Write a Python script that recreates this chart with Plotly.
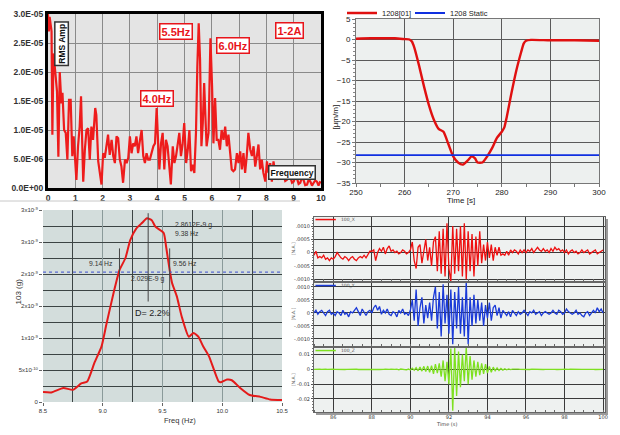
import plotly.graph_objects as go

# ---------------- Panel 1: RMS amplitude spectrum ----------------
p1_freq = [0.0, 0.03, 0.06, 0.09, 0.13, 0.16, 0.2, 0.27, 0.33, 0.38, 0.43, 0.49, 0.53, 0.59, 0.65, 0.71, 0.77, 0.83,
           0.89, 0.94, 0.99, 1.04, 1.10, 1.16, 1.21, 1.29, 1.35, 1.41, 1.47, 1.53, 1.59, 1.65, 1.73, 1.77, 1.84,
           1.90, 1.96, 2.02, 2.08, 2.14, 2.20, 2.26, 2.33, 2.39, 2.45, 2.51, 2.57, 2.63, 2.69, 2.75, 2.82, 2.88,
           2.94, 3.00, 3.06, 3.12, 3.18, 3.24, 3.30, 3.37, 3.43, 3.49, 3.55, 3.61, 3.67, 3.73, 3.79, 3.86, 3.92,
           3.98, 4.04, 4.08, 4.14, 4.20, 4.26, 4.32, 4.38, 4.44, 4.50, 4.57, 4.63, 4.69, 4.75, 4.81, 4.87, 4.93,
           4.99, 5.06, 5.12, 5.18, 5.24, 5.30, 5.36, 5.42, 5.47, 5.52, 5.57, 5.62, 5.67, 5.72, 5.77, 5.81, 5.88,
           5.95, 6.01, 6.06, 6.12, 6.18, 6.24, 6.30, 6.36, 6.43, 6.49, 6.55, 6.61, 6.67, 6.73, 6.79, 6.85, 6.92,
           6.98, 7.04, 7.10, 7.16, 7.22, 7.28, 7.34, 7.41, 7.47, 7.53, 7.59, 7.65, 7.71, 7.77, 7.83, 7.89, 7.96,
           8.02, 8.08, 8.14, 8.20, 8.26, 8.32, 8.38, 8.45, 8.51, 8.57, 8.63, 8.69, 8.75, 8.81, 8.87, 8.94, 9.0,
           9.06, 9.12, 9.18, 9.24, 9.30, 9.36, 9.42, 9.49, 9.55, 9.61, 9.67, 9.73, 9.79, 9.85, 9.91, 9.96, 10.0]
p1_amp_e6 = [30.0, 27.0, 29.5, 28.0, 27.0, 9.2, 23.2, 19.8, 16.6, 5.4, 20.0, 14.6, 16.4, 10.0, 9.5, 4.9, 15.2, 15.2,
             5.5, 8.9, 4.9, 1.4, 7.2, 10.6, 15.8, 1.1, 6.6, 10.0, 10.3, 4.9, 10.6, 8.3, 13.8, 12.6, 4.6,
             2.3, 0.6, 6.0, 5.2, 7.2, 9.2, 5.7, 8.3, 5.5, 4.3, 8.9, 8.6, 4.9, 3.7, 0.9, 4.9, 4.3,
             5.2, 8.9, 6.0, 7.7, 7.2, 8.9, 6.0, 8.3, 10.0, 5.5, 4.3, 6.0, 4.9, 4.9, 6.0, 7.2, 7.7,
             13.8, 7.2, 3.2, 7.7, 9.5, 3.2, 8.3, 7.2, 3.7, 0.6, 7.2, 4.3, 5.5, 7.7, 9.5, 5.5, 7.5,
             11.2, 4.3, 6.6, 10.0, 2.9, 4.0, 2.6, 9.5, 20.9, 28.4, 22.1, 7.2, 11.2, 18.1, 11.8, 7.2, 9.5,
             25.8, 17.5, 7.7, 15.5, 8.3, 8.3, 6.6, 10.0, 8.3, 10.6, 7.2, 9.2, 6.0, 3.2, 2.9, 3.2, 6.0,
             4.3, 6.3, 3.2, 6.0, 2.6, 5.5, 9.5, 6.6, 5.5, 7.2, 3.7, 5.5, 7.5, 3.2, 4.9, 2.6, 1.1,
             4.6, 2.6, 4.3, 1.1, 4.6, 2.6, 2.9, 1.6, 1.7, 2.8, 2.3, 1.2, 1.4, 2.4, 2.0, 0.9, 1.1,
             2.0, 1.7, 0.7, 0.9, 1.8, 1.4, 0.5, 0.6, 1.5, 1.1, 0.4, 0.9, 1.3, 1.1, 0.4, 1.0, 0.9]
p1_amp = [v * 1e-6 for v in p1_amp_e6]
p1_xticks = [0, 1, 2, 3, 4, 5, 6, 7, 8, 9, 10]
p1_yticks = [0, 5e-6, 1e-5, 1.5e-5, 2e-5, 2.5e-5, 3e-5]
p1_yticklabels = ["0.0E+00", "5.0E-06", "1.0E-05", "1.5E-05", "2.0E-05", "2.5E-05", "3.0E-05"]

# ---------------- Panel 2: strain time history ----------------
p2_time = [250, 253, 255, 258, 260, 261, 261.5, 262, 263, 264, 265, 266, 267, 268, 269, 270, 271, 272, 273,
           273.8, 274.5, 275, 276, 277, 278, 279, 280, 280.5, 281, 282, 283, 284, 284.5, 285, 286, 290, 295, 300]
p2_strain = [0.2, 0.3, 0.3, 0.3, 0.1, 0.0, -0.5, -2.0, -6.5, -11.5, -16.0, -19.5, -21.8, -22.5, -25.5, -28.5,
             -30.0, -30.5, -29.5, -28.5, -29.0, -30.0, -30.0, -28.5, -26.5, -24.0, -22.5, -21.5, -19.0, -13.0,
             -7.5, -3.0, -1.0, -0.3, -0.1, -0.2, -0.2, -0.3]
p2_static_time = [250, 300]
p2_static = [-28.2, -28.2]

# ---------------- Panel 3: half-power bandwidth ----------------
p3_freq = [8.5, 8.57, 8.67, 8.75, 8.82, 8.87, 8.93, 8.99, 9.03, 9.09, 9.14, 9.19, 9.23, 9.28, 9.33, 9.37, 9.41,
           9.44, 9.51, 9.53, 9.56, 9.58, 9.62, 9.66, 9.72, 9.76, 9.80, 9.84, 9.89, 9.97, 9.99, 10.04, 10.08,
           10.15, 10.23, 10.32, 10.40, 10.5]
p3_amp_e9 = [0.156, 0.15, 0.22, 0.19, 0.29, 0.32, 0.61, 0.87, 1.21, 1.70, 2.06, 2.25, 2.53, 2.71, 2.80, 2.87, 2.84,
             2.74, 2.64, 2.43, 2.06, 1.86, 1.65, 1.34, 1.02, 1.08, 1.02, 0.87, 0.71, 0.32, 0.31, 0.35, 0.34,
             0.22, 0.11, 0.08, 0.04, 0.03]
p3_amp = [v * 1e-9 for v in p3_amp_e9]
p3_half_power = 2.029e-9
p3_marker_freq = [9.14, 9.38, 9.56]
p3_marker_lo_e9 = [1.02, 1.57, 1.02]
p3_marker_hi_e9 = [2.40, 2.95, 2.40]
p3_xticks = [8.5, 9.0, 9.5, 10.0, 10.5]
p3_xticklabels = ["8.5", "9.0", "9.5", "10.0", "10.5"]
p3_yticks = [0, 0.5e-9, 1.0e-9, 1.5e-9, 2.0e-9, 2.5e-9, 3.0e-9]
p3_yticklabels = ["0", "5x10<sup>-10</sup>", "1x10<sup>-9</sup>", "2x10<sup>-9</sup>", "2x10<sup>-9</sup>",
                  "3x10<sup>-9</sup>", "3x10<sup>-9</sup>"]

# ---------------- Panel 4: three-axis acceleration ----------------
p4_t0 = 85.0
p4_dt = 0.1
p4_x_e4 = [-1, 0.5, -2, -1.5, -2, -1, -2.5, -2, -3, -2,
           -2.5, -1.5, 0, -1, -2, -2.5, -1.5, -2, -3, -2,
           -1.5, -2.5, -3, -2, -1.5, -2, -1, -2, -0.5, 0.5,
           0.5, 1, -3, 0, 1.5, 0.5, 2, -0.5, 1.5, 2.5,
           0.5, 1, 0, 0.5, -0.5, 0, 1, 0.5, -0.5, 0,
           1, 4, -3, -6, 2, 3, -4, 1, 5, -3,
           2, -5, 4, 6, -7, 8, -8, 9, -9, 11,
           -6, -11, 10, -8, 9, -7, 10, -9, 11, -10,
           8, -7, 7, -9, 6, -5, 8, -4, 3, -3,
           4, -2, 3, -3, 2, -1, 2, -1, -0.5, -1,
           0.5, -1, 1, 0, 1, 0.5, -0.5, 1, 0, 1,
           0, 1, 0.5, 1.5, 0, 1, 2, 1, 0.5, 1.5,
           0.5, 1, 0, 1.5, 0.5, 2, 1, 1.5, 0.5, 1,
           0, 1, -0.5, 0.5, 1, 0, 0.5, -0.5, 0, 1,
           0, 0.5, 1, -0.5, 0, 0.5, 1, -0.5, 0, 0.5,
           1]
p4_y_e4 = [0, 1, -0.5, 0.5, 1, 0, -1, 0.5, 1, -0.5,
           0, -1, 0.5, 0, -1, 1, -0.5, 0, -1.5, 0.5,
           0, 1, 2, 0.5, -1, 1.5, 0, -1, 0.5, 1,
           0, 2, 3, 1, 2.5, -0.5, 1, 0, 1.5, -0.5,
           -1, 0.5, 0, -1.5, 1, 0, 1.5, -0.5, 0, -1,
           1, 5, -3, 9, -5, 2, 6, -4, 3, -2,
           4, -3, 6, 10, -6, 8, -9, 11, -4, 7,
           -8, 9, -12, 8, -6, 10, -8, 6, -9, 12,
           -12, 6, -5, 7, -4, 5, -3, 4, -5, 3,
           -2, 4, -3, 2, 3, -1, 2, -2, 1, 0,
           -1, 0.5, -1.5, 1, 0, -1, 0.5, -0.5, 0, 1,
           0, -1, 0.5, 0, 1, -0.5, 0, 0.5, -1, 0,
           0.5, 0, -0.5, 0, 1, 0, -0.5, 1, 0.5, -0.5,
           0, 1.5, 0.5, 0, -0.5, 0, 1, -0.5, 0, -1,
           -1.5, 0, 0.5, -1, 0, 1, 0, 2, 0.5, 1.5,
           0]
p4_z_e3 = [0, 0.2, -0.1, 0.1, 0, -0.2, 0.1, 0, 0.2, -0.1,
           0.1, 0, -0.1, 0.2, 0, 0.1, -0.1, 0, 0.1, -0.2,
           0, 0.1, 0.2, -0.1, 0, 0.1, 0, -0.2, 0.1, 0,
           -0.1, 0.1, 0.2, 0, -0.1, 0.2, 0, 0.1, -0.1, 0,
           0.1, -0.2, 0, 0.1, -0.3, 0.2, -0.1, 0, -0.3, 0.2,
           -0.5, 0.8, -0.6, 1.2, -1.0, 1.5, -1.2, 2.0, -1.5, 2.2,
           -2.0, 2.5, -3.0, 3.5, -2.5, 4.0, -5.0, 6.0, -8.0, 5.0,
           -10.0, 14.0, -28.0, 15.0, -18.0, 12.0, -12.0, 10.0, -8.0, 15.0,
           -10.0, 9.0, -7.0, 6.0, -5.0, 5.0, -4.0, 4.0, -3.0, 3.5,
           -2.5, 2.0, -2.0, 1.5, -1.0, 1.0, -0.8, 0.6, -0.5, 0.4,
           -0.3, 0.3, -0.2, 0.2, 0, -0.1, 0.1, 0, -0.1, 0.1,
           0, 0.1, -0.1, 0.1, 0, -0.1, 0.1, 0, 0.1, -0.1,
           0, 0.1, 0, -0.1, 0.1, 0, -0.1, 0.1, 0, 0,
           0.1, -0.1, 0, 0.1, 0, -0.1, 0, 0.1, -0.1, 0,
           0, 0.1, -0.1, 0, 0.1, 0, -0.1, 0, 0.1, 0,
           0]
p4_time = [round(p4_t0 + i * p4_dt, 2) for i in range(len(p4_x_e4))]
p4_x = [v * 1e-4 for v in p4_x_e4]
p4_y = [v * 1e-4 for v in p4_y_e4]
p4_z = [v * 1e-3 for v in p4_z_e3]
p4_xticks = [86, 88, 90, 92, 94, 96, 98, 100]
p4_names = ["100_X", "100_Y", "100_Z"]

# ====================================================================
fig = go.Figure()

RED = "#ee1c1c"
fig.add_trace(go.Scatter(x=p1_freq, y=p1_amp, mode="lines", line=dict(color=RED, width=2.2),
                         xaxis="x", yaxis="y", showlegend=False))
fig.add_trace(go.Scatter(x=p2_time, y=p2_strain, mode="lines", name="1208[01]",
                         line=dict(color="#e01010", width=2.4, shape="spline", smoothing=0.6),
                         xaxis="x2", yaxis="y2", showlegend=True, legend="legend"))
fig.add_trace(go.Scatter(x=p2_static_time, y=p2_static, mode="lines", name="1208 Static",
                         line=dict(color="#1030e0", width=1.8), xaxis="x2", yaxis="y2", showlegend=True,
                         legend="legend2"))
fig.add_trace(go.Scatter(x=p3_freq, y=p3_amp, mode="lines", line=dict(color="#e41a1a", width=2, shape="spline", smoothing=0.5),
                         xaxis="x3", yaxis="y3", showlegend=False))
fig.add_trace(go.Scatter(x=[8.5, 10.5], y=[p3_half_power, p3_half_power], mode="lines",
                         line=dict(color="#5a6ad0", width=1.2, dash="dot"), xaxis="x3", yaxis="y3", showlegend=False))
for f, lo, hi in zip(p3_marker_freq, p3_marker_lo_e9, p3_marker_hi_e9):
    fig.add_trace(go.Scatter(x=[f, f], y=[lo * 1e-9, hi * 1e-9], mode="lines",
                             line=dict(color="#444444", width=1), xaxis="x3", yaxis="y3", showlegend=False))
fig.add_trace(go.Scatter(x=p4_time, y=p4_x, mode="lines", line=dict(color="#ee1010", width=1.3),
                         xaxis="x4", yaxis="y4", showlegend=False))
fig.add_trace(go.Scatter(x=p4_time, y=p4_y, mode="lines", line=dict(color="#1a3ad8", width=1.3),
                         xaxis="x5", yaxis="y5", showlegend=False))
fig.add_trace(go.Scatter(x=p4_time, y=p4_z, mode="lines", line=dict(color="#7ee020", width=1.3),
                         xaxis="x6", yaxis="y6", showlegend=False))

W, H = 620, 435
def px(x0, x1):
    return [x0 / W, x1 / W]
def py(top, bottom):
    return [(H - bottom) / H, (H - top) / H]

tf1 = dict(family="Liberation Sans, Arial", size=8.5, color="#333333", weight="bold")
tf2 = dict(family="Liberation Sans, Arial", size=8, color="#222222")
tf3 = dict(family="Liberation Sans, Arial", size=6, color="#333333")
tf4 = dict(family="DejaVu Sans, Verdana", size=5, color="#333333")

p4_common_x = dict(range=[85.0, 100.1], tickvals=p4_xticks, showgrid=True, gridcolor="#3a3a3a", gridwidth=1,
                   zeroline=False, showline=True, linecolor="#666666", mirror=True, ticks="", automargin=False,
                   minor=dict(ticks="inside", ticklen=2, dtick=0.5, tickcolor="#666666"))
p4_common_y = dict(showgrid=True, gridcolor="#3a3a3a", gridwidth=1, zeroline=False, showline=True,
                   linecolor="#666666", mirror=True, ticks="outside", ticklen=2, tickcolor="#555555",
                   tickfont=tf4, automargin=False)

leg_font = dict(family="Liberation Sans, Arial", size=7.5, color="#222")
fig.update_layout(
    width=W, height=H, margin=dict(l=0, r=0, t=0, b=0, autoexpand=False),
    paper_bgcolor="white", plot_bgcolor="white", font=dict(family="Liberation Sans, Arial"),
    showlegend=True,
    legend=dict(orientation="h", x=342 / W, y=(H - 13) / H, xanchor="left", yanchor="middle",
                font=leg_font, bgcolor="rgba(0,0,0,0)", itemwidth=30),
    legend2=dict(orientation="h", x=410 / W, y=(H - 13) / H, xanchor="left", yanchor="middle",
                 font=leg_font, bgcolor="rgba(0,0,0,0)", itemwidth=30),
    # panel 1
    xaxis=dict(domain=px(48, 321), range=[0, 10], tickvals=p1_xticks, showgrid=True, gridcolor="#8a8a8a",
               zeroline=False, showline=True, linecolor="black", linewidth=3, mirror=True, ticks="",
               tickfont=tf1, anchor="y", automargin=False),
    yaxis=dict(domain=py(14, 188), range=[0, 3e-5], tickvals=p1_yticks, ticktext=p1_yticklabels,
               showgrid=True, gridcolor="#8a8a8a", zeroline=False, showline=True, linecolor="black",
               linewidth=3, mirror=True, ticks="", tickfont=tf1, anchor="x", automargin=False),
    # panel 2
    xaxis2=dict(domain=px(356, 599), range=[250, 300], dtick=10, showgrid=True, gridcolor="#5a5a5a",
                zeroline=False, showline=True, linecolor="#777", mirror=True, ticks="outside", ticklen=3,
                tickcolor="#777", tickfont=tf2, anchor="y2", automargin=False, ticklabelstandoff=-2,
                minor=dict(dtick=5, ticks="outside", ticklen=3, tickcolor="#777")),
    yaxis2=dict(domain=py(19, 183), range=[-35, 5], dtick=5, showgrid=True, gridcolor="#5a5a5a",
                zeroline=False, showline=True, linecolor="#777", mirror=True, ticks="outside", ticklen=3,
                tickcolor="#777", tickfont=tf2, anchor="x2", automargin=False,
                minor=dict(dtick=1, ticks="outside", ticklen=2, tickcolor="#888")),
    # panel 3
    xaxis3=dict(domain=px(43, 282), range=[8.5, 10.5], tickvals=p3_xticks, ticktext=p3_xticklabels,
                showgrid=True, gridcolor="#8a9a9a", zeroline=False, showline=False, ticks="outside",
                ticklen=3, tickcolor="#666", tickfont=tf3, anchor="y3", automargin=False,
                minor=dict(tickmode="linear", tick0=8.75, dtick=0.5, showgrid=True, gridcolor="#3c4444",
                           gridwidth=1.2)),
    yaxis3=dict(domain=py(210, 402), range=[0, 3e-9], tickvals=p3_yticks, ticktext=p3_yticklabels,
                showgrid=True, gridcolor="#3c4444", gridwidth=1.2, zeroline=False, showline=False,
                ticks="outside", ticklen=3, tickcolor="#666", tickfont=tf3, anchor="x3", automargin=False,
                minor=dict(tickmode="linear", tick0=0.25e-9, dtick=0.5e-9, showgrid=True,
                           gridcolor="#3c4444", gridwidth=1.2)),
    # panel 4
    xaxis4=dict(domain=px(314, 605), anchor="y4", showticklabels=False, **p4_common_x),
    yaxis4=dict(domain=py(217, 281), range=[-0.00107, 0.00134], tickvals=[-0.001, -0.0005, 0, 0.0005, 0.001],
                ticktext=["-.0010", "-.0005", "0", ".0005", ".0010"], anchor="x4",
                minor=dict(ticks="outside", ticklen=1.5, tickcolor="#777", dtick=0.0001), **p4_common_y),
    xaxis5=dict(domain=px(314, 605), anchor="y5", showticklabels=False, **p4_common_x),
    yaxis5=dict(domain=py(283, 346), range=[-0.00127, 0.00115], tickvals=[-0.001, -0.0005, 0, 0.0005, 0.001],
                ticktext=["-.0010", "-.0005", "0", ".0005", ".0010"], anchor="x5",
                minor=dict(ticks="outside", ticklen=1.5, tickcolor="#777", dtick=0.0001), **p4_common_y),
    xaxis6=dict(domain=px(314, 605), anchor="y6", showticklabels=True, tickfont=tf4, **p4_common_x),
    yaxis6=dict(domain=py(348, 412), range=[-0.0288, 0.0144], tickvals=[-0.02, -0.01, 0, 0.01],
                ticktext=["-0.02", "-0.01", "0", "0.01"], anchor="x6",
                minor=dict(ticks="outside", ticklen=1.5, tickcolor="#777", dtick=0.002), **p4_common_y),
)

# plot-area backgrounds
shapes = [
    dict(type="rect", xref="x domain", yref="y domain", x0=0, x1=1, y0=0, y1=1, fillcolor="#e4e4e4",
         line_width=0, layer="below"),
    dict(type="rect", xref="x2 domain", yref="y2 domain", x0=0, x1=1, y0=0, y1=1, fillcolor="#edf0ef",
         line_width=0, layer="below"),
    dict(type="rect", xref="x3 domain", yref="y3 domain", x0=0, x1=1, y0=0, y1=1, fillcolor="#d3dddc",
         line_width=0, layer="below"),
    dict(type="rect", xref="paper", yref="paper", x0=316 / W, x1=608 / W, y0=(H - 415) / H, y1=(H - 219) / H,
         fillcolor="#9a9a9a", line_width=0, layer="below"),
    dict(type="line", xref="paper", yref="paper", x0=0, x1=300 / W, y0=(H - 201) / H, y1=(H - 201) / H,
         line=dict(color="#c8c8c8", width=1)),
]
for ax in ["4", "5", "6"]:
    shapes.append(dict(type="rect", xref=f"x{ax} domain", yref=f"y{ax} domain", x0=0, x1=1, y0=0, y1=1,
                       fillcolor="#eef1f0", line_width=0, layer="below"))
fig.update_layout(shapes=shapes)

leg_cols = ["#ee1010", "#1a3ad8", "#7ee020"]
for ax, name, col in zip(["4", "5", "6"], p4_names, leg_cols):
    fig.add_shape(type="line", xref=f"x{ax} domain", yref=f"y{ax} domain", x0=0.005, x1=0.075, y0=0.96, y1=0.96,
                  line=dict(color=col, width=1.5))
    fig.add_annotation(xref=f"x{ax} domain", yref=f"y{ax} domain", x=0.085, y=0.96, text=name, showarrow=False,
                       xanchor="left", yanchor="middle", font=dict(family="DejaVu Sans", size=4.5, color="#555"))
    fig.add_annotation(xref="paper", yref=f"y{ax} domain", x=293 / W, y=0.5, text="[N.A.]", showarrow=False,
                       textangle=-90, font=dict(family="DejaVu Sans", size=4.5, color="#555"))

ann = []
def box(x, y, text, color, border, size=11, angle=0):
    return dict(xref="x", yref="y", x=x, y=y, text=text, showarrow=False, textangle=angle,
                font=dict(family="Liberation Sans, Arial", size=size, color=color, weight="bold"),
                bgcolor="white", bordercolor=border, borderwidth=1.5, borderpad=1)
ann.append(box(0.5, 24.9e-6, "RMS Amp", "#111", "#333", size=8.5, angle=-90))
ann.append(box(4.69, 27.0e-6, "5.5Hz", "#e8141a", "#e8141a"))
ann.append(box(6.79, 24.5e-6, "6.0Hz", "#e8141a", "#e8141a"))
ann.append(box(8.85, 27.1e-6, "1-2A", "#e8141a", "#e8141a"))
ann.append(box(3.98, 15.5e-6, "4.0Hz", "#e8141a", "#e8141a"))
ann.append(box(8.93, 2.6e-6, "Frequency", "#111", "#333", size=8.5))
# panel 2 titles
ann.append(dict(xref="paper", yref="paper", x=477 / W, y=(H - 200.5) / H, yanchor="middle", text="Time [s]",
                showarrow=False, font=dict(family="Liberation Sans, Arial", size=8, color="#222")))
ann.append(dict(xref="paper", yref="paper", x=335 / W, y=(H - 103) / H, text="[μm/m]", showarrow=False,
                textangle=-90, font=dict(family="Liberation Sans, Arial", size=8, color="#222")))
# panel 3 text
t3 = dict(family="Liberation Sans, Arial", size=6.8, color="#333")
ann.append(dict(xref="x3", yref="y3", x=9.59, y=2.77e-9, text="2.8612E-9 g", showarrow=False, xanchor="left", font=t3))
ann.append(dict(xref="x3", yref="y3", x=9.59, y=2.64e-9, text="9.38 Hz", showarrow=False, xanchor="left", font=t3))
ann.append(dict(xref="x3", yref="y3", x=9.1, y=2.17e-9, text="9.14 Hz", showarrow=False, xanchor="right", font=t3))
ann.append(dict(xref="x3", yref="y3", x=9.575, y=2.17e-9, text="9.56 Hz", showarrow=False, xanchor="left", font=t3))
ann.append(dict(xref="x3", yref="y3", x=9.22, y=1.92e-9, text="2.029E-9 g", showarrow=False, xanchor="left", font=t3))
ann.append(dict(xref="x3", yref="y3", x=9.25, y=1.39e-9, text="D= 2.2%", showarrow=False, xanchor="left",
                font=dict(family="Liberation Sans, Arial", size=9, color="#222")))
ann.append(dict(xref="paper", yref="paper", x=162 / W, y=(H - 420) / H, yanchor="middle", text="Freq (Hz)",
                showarrow=False, font=dict(family="Liberation Sans, Arial", size=7.5, color="#333")))
ann.append(dict(xref="paper", yref="paper", x=11 / W, y=(H - 307) / H, text="103 (g)", showarrow=False,
                textangle=-90, font=dict(family="Liberation Sans, Arial", size=8, color="#333")))
ann.append(dict(xref="paper", yref="paper", x=459 / W, y=(H - 423.5) / H, yanchor="middle", text="Time (s)",
                showarrow=False, font=dict(family="DejaVu Sans", size=5, color="#444")))
for a in ann:
    fig.add_annotation(**a)

fig.write_html("out.html")
